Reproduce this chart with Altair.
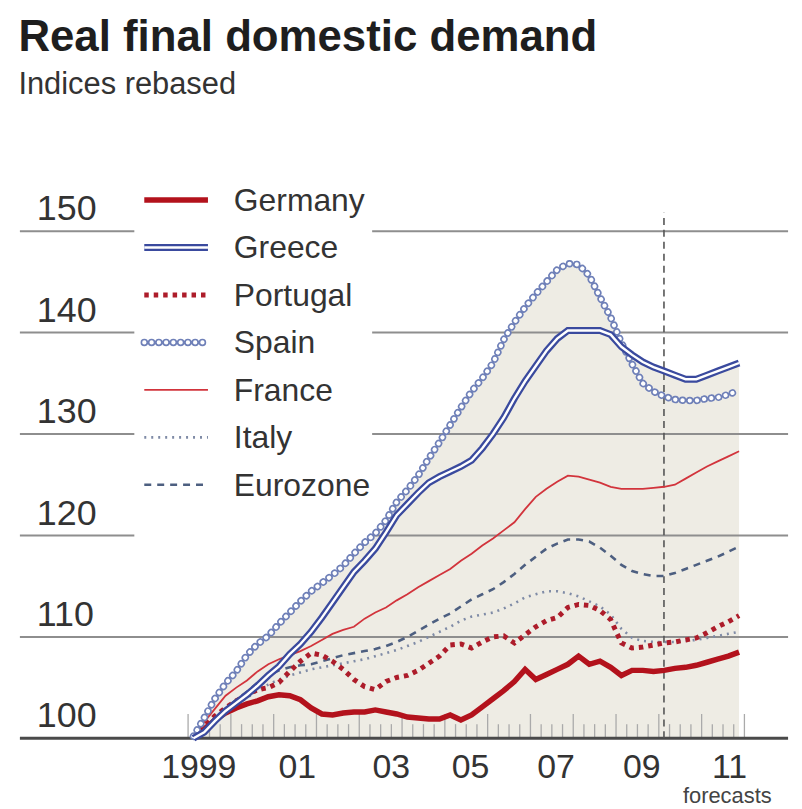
import altair as alt
import pandas as pd

# ---------------- data ----------------
years = list(range(1999, 2012))
quarters = [f"{y}Q{q}" for y in years for q in range(1, 5)]

germany = [100.0, 100.9, 101.8, 102.5, 103.0, 103.4, 103.7, 104.1, 104.3, 104.2,
           103.8, 103.0, 102.4, 102.3, 102.5, 102.6, 102.6, 102.8, 102.6, 102.4,
           102.1, 102.0, 101.9, 101.9, 102.3, 101.8, 102.3, 103.1, 103.9, 104.7,
           105.6, 106.8, 105.8, 106.3, 106.8, 107.3, 108.1, 107.3, 107.6, 107.0,
           106.2, 106.7, 106.7, 106.6, 106.7, 106.9, 107.0, 107.2, 107.5, 107.8,
           108.1, 108.5]
greece = [100.0, 100.6, 101.7, 102.7, 103.5, 104.3, 105.2, 106.2, 107.1, 108.3,
          109.3, 110.5, 111.9, 113.4, 114.9, 116.4, 117.5, 118.7, 120.3, 122.0,
          123.1, 124.2, 125.2, 125.8, 126.3, 126.8, 127.4, 128.6, 130.0, 131.6,
          133.5, 135.2, 136.7, 138.2, 139.4, 140.2, 140.2, 140.2, 140.2, 139.8,
          138.6, 137.8, 137.1, 136.6, 136.2, 135.8, 135.4, 135.4, 135.8, 136.2,
          136.6, 137.0]
portugal = [100.0, 101.2, 102.2, 103.0, 103.7, 104.3, 104.8, 105.0, 105.5, 106.6,
            107.6, 108.4, 108.2, 107.6, 106.8, 105.8, 105.1, 104.8, 105.6, 106.0,
            106.2, 106.7, 107.4, 108.1, 109.2, 109.3, 108.9, 109.5, 110.0, 110.1,
            109.4, 110.2, 111.0, 111.6, 111.9, 112.9, 113.2, 113.1, 112.6, 111.7,
            109.4, 108.9, 109.0, 109.2, 109.4, 109.5, 109.7, 109.9, 110.4, 111.0,
            111.5, 112.1]
spain = [100.2, 102.0, 103.9, 105.4, 106.6, 108.2, 109.3, 110.1, 111.3, 112.4,
         113.5, 114.5, 115.3, 116.1, 117.0, 118.2, 119.3, 120.2, 121.5, 123.3,
         124.5, 125.9, 127.6, 129.2, 130.9, 132.6, 134.2, 135.5, 137.0, 139.3,
         141.0, 142.5, 143.8, 145.0, 146.2, 146.8, 146.7, 145.6, 143.5, 141.5,
         139.0, 136.9, 135.0, 134.2, 133.7, 133.4, 133.3, 133.3, 133.5, 133.6,
         133.9, 134.3]
france = [100.3, 101.6, 102.9, 104.2, 105.0, 105.7, 106.6, 107.3, 107.8, 108.2,
          108.6, 109.1, 109.7, 110.3, 110.7, 111.0, 111.8, 112.4, 112.9, 113.6,
          114.2, 114.9, 115.5, 116.1, 116.7, 117.5, 118.2, 119.0, 119.7, 120.5,
          121.3, 122.6, 123.8, 124.6, 125.3, 125.9, 125.8, 125.5, 125.2, 124.8,
          124.6, 124.6, 124.6, 124.7, 124.8, 125.0, 125.6, 126.2, 126.8, 127.3,
          127.8, 128.3]
italy = [100.0, 100.9, 101.8, 102.6, 103.3, 104.0, 104.7, 105.3, 105.8, 106.2,
         106.5, 106.8, 107.0, 107.2, 107.4, 107.6, 107.8, 108.1, 108.4, 108.7,
         109.1, 109.5, 110.0, 110.5, 111.0, 111.6, 112.0, 112.2, 112.4, 112.8,
         113.3, 113.9, 114.2, 114.5, 114.5, 114.3, 114.0, 113.5, 113.0, 112.2,
         110.8, 109.9, 109.6, 109.5, 109.5, 109.5, 109.6, 109.7, 109.9, 110.1,
         110.3, 110.5]
eurozone = [100.0, 101.0, 102.0, 102.9, 103.8, 104.6, 105.5, 106.2, 106.7, 107.0,
            107.2, 107.3, 107.6, 107.9, 108.2, 108.4, 108.6, 108.8, 109.1, 109.5,
            110.0, 110.6, 111.2, 111.8, 112.3, 113.0, 113.7, 114.2, 114.7, 115.4,
            116.2, 117.1, 117.9, 118.7, 119.2, 119.6, 119.6, 119.4, 118.8, 118.0,
            117.1, 116.5, 116.2, 116.0, 116.0, 116.3, 116.7, 117.1, 117.5, 117.9,
            118.4, 118.9]

series_names = ["Germany", "Greece", "Portugal", "Spain", "France", "Italy", "Eurozone"]
y_ticks = [100, 110, 120, 130, 140, 150]
x_label_text = ["1999", "01", "03", "05", "07", "09", "11"]
x_label_pos = [1999.25, 2001.55, 2003.75, 2005.6, 2007.6, 2009.6, 2011.65]
forecast_start = 2010.12
forecast_top = 151.8
forecast_label_pos = 2011.6

# ---------------- tables ----------------
def qnum(q):
    return int(q[:4]) + (int(q[-1]) - 0.5) / 4

df = pd.DataFrame({
    "t": [qnum(q) for q in quarters],
    "Germany": germany, "Greece": greece, "Portugal": portugal, "Spain": spain,
    "France": france, "Italy": italy, "Eurozone": eurozone,
})
long = df.melt("t", var_name="series", value_name="v")

tick_t = [y + q / 4 for y in range(1999, 2012) for q in range(4)] + [2012.0]
tick_df = pd.DataFrame({"t": tick_t, "major": [(i % 4 == 0) for i in range(len(tick_t))]})
ylab_df = pd.DataFrame({"v": y_ticks, "lab": [str(v) for v in y_ticks]})
xlab_df = pd.DataFrame({"t": x_label_pos, "lab": x_label_text})
fc_df = pd.DataFrame({"t": [forecast_start], "v": [y_ticks[0]], "v2": [forecast_top]})
fct_df = pd.DataFrame({"t": [forecast_label_pos], "lab": ["forecasts"]})

W, H = 772, 576
FONT = "Liberation Sans"
XS = alt.Scale(domain=[1995.07, 2013.02], nice=False, zero=False)
YS = alt.Scale(domain=[100, 156.5], nice=False, zero=False)
X = alt.X("t:Q", scale=XS, axis=None)
Y = alt.Y("v:Q", scale=YS, axis=None)

one = pd.DataFrame({"a": [0]})

area = alt.Chart(df).transform_calculate(
    v="max(datum.Spain, datum.Greece)", base="100"
).mark_area(color="#eeece4").encode(x=X, y=Y, y2=alt.Y2("base:Q"))

grid = alt.Chart(ylab_df).transform_filter("datum.v > 100").mark_rule(
    color="#8e8e8e", strokeWidth=2
).encode(y=Y, x=alt.value(0), x2=alt.value(W))

legend_bg = alt.Chart(one).mark_rect(color="white").encode(
    x=alt.value(115), x2=alt.value(354), y=alt.value(10), y2=alt.value(380)
)

ticks = alt.Chart(tick_df).transform_calculate(
    v="100", top="datum.major ? 102.4 : 101.4"
).mark_rule(color="#aaaaaa", strokeWidth=1.3).encode(
    x=X, y=Y, y2=alt.Y2("top:Q")
)

baseline = alt.Chart(ylab_df).transform_filter("datum.v == 100").mark_rule(
    color="#4a4a4a", strokeWidth=3
).encode(y=Y, x=alt.value(0), x2=alt.value(W))

fc_line = alt.Chart(fc_df).mark_rule(color="#555555", strokeWidth=1.6, strokeDash=[7, 5]).encode(
    x=X, y=Y, y2=alt.Y2("v2:Q")
)

styles = {
    "Germany": [dict(color="#b3121c", strokeWidth=5.5)],
    "Greece": [dict(color="#3a4a9e", strokeWidth=7), dict(color="white", strokeWidth=2.4)],
    "Portugal": [dict(color="#ad1c2a", strokeWidth=5, strokeDash=[4.5, 5])],
    "Spain": [dict(color="#6f80b8", strokeWidth=7.5, strokeDash=[0.1, 7.2], strokeCap="round"),
              dict(color="white", strokeWidth=4.2, strokeDash=[0.1, 7.2], strokeCap="round")],
    "France": [dict(color="#d2343c", strokeWidth=1.8)],
    "Italy": [dict(color="#7f8ba6", strokeWidth=2.6, strokeDash=[2, 5])],
    "Eurozone": [dict(color="#4d5f80", strokeWidth=2.6, strokeDash=[7, 6])],
}
draw_order = ["Italy", "Eurozone", "France", "Portugal", "Germany", "Spain", "Greece"]

line_layers = []
for name in draw_order:
    for st in styles[name]:
        line_layers.append(
            alt.Chart(long).transform_filter(alt.datum.series == name)
            .mark_line(**st).encode(x=X, y=Y)
        )

legend_layers = []
for i, name in enumerate(series_names):
    ly = 35 + 47.7 * i
    for st in styles[name]:
        legend_layers.append(
            alt.Chart(one).mark_rule(**st).encode(
                x=alt.value(125), x2=alt.value(189), y=alt.value(ly)
            )
        )
    legend_layers.append(
        alt.Chart(one).mark_text(align="left", baseline="middle", fontSize=32,
                                 font=FONT, color="#333333").encode(
            x=alt.value(215), y=alt.value(ly + 1), text=alt.value(name)
        )
    )

ylabels = alt.Chart(ylab_df).mark_text(align="left", baseline="bottom", dy=-3,
                                       fontSize=36, font=FONT, color="#333333").encode(
    x=alt.value(17), y=Y, text="lab:N"
)

xlabels = alt.Chart(xlab_df).mark_text(align="center", baseline="middle",
                                       fontSize=34, font=FONT, color="#333333").encode(
    x=X, y=alt.value(H + 30), text="lab:N"
)

fc_text = alt.Chart(fct_df).mark_text(align="center", baseline="middle", fontSize=22,
                                      font=FONT, color="#444444").encode(
    x=X, y=alt.value(H + 58), text="lab:N"
)

chart = alt.layer(
    area, grid, legend_bg, ticks, baseline, fc_line, *line_layers,
    ylabels, xlabels, fc_text, *legend_layers
).properties(
    width=W, height=H,
    padding={"left": 18, "top": 14, "right": 12, "bottom": 0},
    title=alt.TitleParams(
        text="Real final domestic demand", subtitle="Indices rebased",
        anchor="start", font=FONT, fontSize=44, fontWeight="bold", color="#1e1e1e",
        subtitleFont=FONT, subtitleFontSize=31, subtitleColor="#333333",
        subtitlePadding=10, offset=66,
    ),
).configure_view(strokeWidth=0)

chart.save("out.html", embed_options={"renderer": "svg", "actions": False})
